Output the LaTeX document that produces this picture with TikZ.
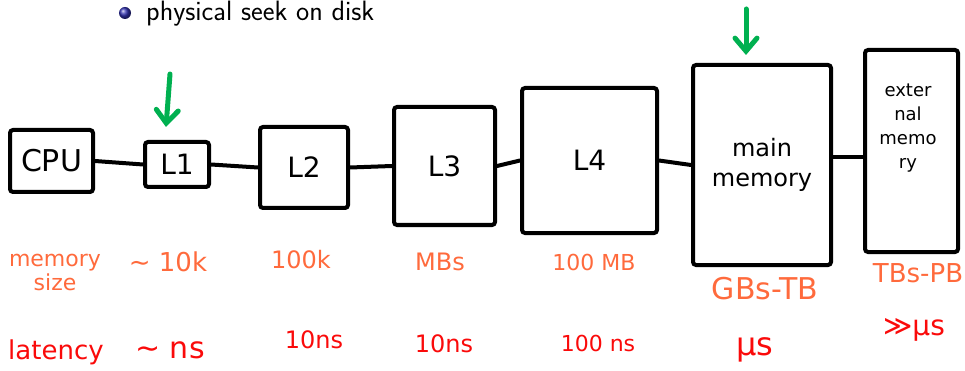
\documentclass[tikz,border=0pt]{standalone}
\usepackage{fontspec}
\newfontfamily\hand{DejaVu Sans}
\usetikzlibrary{arrows.meta}
\definecolor{orangelbl}{RGB}{255,106,60}
\definecolor{redlbl}{RGB}{250,10,10}
\definecolor{greenarr}{RGB}{0,176,80}
\definecolor{beamerblue}{RGB}{51,51,179}
\newcommand{\handsz}[1]{\hand\fontsize{#1}{#1}\selectfont}
\tikzset{
  membox/.style={draw=black, line width=4pt, rounded corners=3pt, inner sep=0pt, align=center, font=\handsz{28}},
  conn/.style={draw=black, line width=4pt, line cap=round},
  sizelbl/.style={text=orangelbl, font=\handsz{22}, inner sep=0pt, align=center},
  latlbl/.style={text=redlbl, font=\handsz{22}, inner sep=0pt, align=center},
  greenarrow/.style={draw=greenarr, line width=5pt, line cap=round, -{Straight Barb[length=13pt,width=22pt,line cap=round]}}
}
\begin{document}
\begin{tikzpicture}[x=1pt,y=-1pt]
\useasboundingbox (0,0) rectangle (965,371);
% bullet line
\node[circle, shading=ball, ball color=beamerblue, minimum size=12pt, inner sep=0pt] (bullet) at (125,13) {};
\node[anchor=base west, inner sep=0pt, font=\sffamily\fontsize{28}{30}\selectfont] (seek) at (146,21) {physical seek on disk};
% boxes
\node[membox, minimum width=83pt, minimum height=62pt, font=\handsz{30}] (cpu) at (51.5,161) {CPU};
\node[membox, minimum width=64pt, minimum height=45pt] (l1) at (177,164.5) {L1};
\node[membox, minimum width=88pt, minimum height=81pt] (l2) at (304,167.5) {L2};
\node[membox, minimum width=101pt, minimum height=118pt] (l3) at (444.5,166) {L3};
\node[membox, minimum width=135pt, minimum height=145pt] (l4) at (589.5,160.5) {L4};
\node[membox, minimum width=138pt, minimum height=200pt, font=\hand\fontsize{24}{30}\selectfont] (main) at (762,165) {main\\memory};
\node[membox, minimum width=93pt, minimum height=202pt] (ext) at (911.5,151) {};
\node[anchor=north, inner sep=0pt, align=center, font=\hand\fontsize{18}{24}\selectfont] (exttext) at (908,84) {exter\\nal\\memo\\ry};
% connectors
\draw[conn] (cpu.east) -- (l1.west);
\draw[conn] (l1.east) -- (l2.west);
\draw[conn] (l2.east) -- (l3.west);
\draw[conn] (l3.east) -- (l4.west);
\draw[conn] (l4.east) -- (main.west);
\draw[conn] ([yshift=8pt]main.east) -- ([yshift=8pt]main.east -| ext.west);
% green arrows
\coordinate (g1s) at (170,74);
\coordinate (g1e) at (166,127);
\coordinate (g2s) at (746,9);
\coordinate (g2e) at (746,55);
\draw[greenarrow] (g1s) -- (g1e);
\draw[greenarrow] (g2s) -- (g2e);
% memory size row
\node[sizelbl, font=\hand\fontsize{22}{24}\selectfont] (szlbl) at (55,272) {memory\\size};
\node[sizelbl, font=\handsz{26}] (sz1) at (168,262) {∼ 10k};
\node[sizelbl, font=\handsz{24}] (sz2) at (301,260) {100k};
\node[sizelbl, font=\handsz{24}] (sz3) at (440,262) {MBs};
\node[sizelbl] (sz4) at (594,262) {100 MB};
\node[sizelbl, font=\handsz{30}] (sz5) at (765,289) {GBs-TB};
\node[sizelbl, font=\handsz{26}] (sz6) at (918,273) {TBs-PB};
% latency row
\node[latlbl, font=\handsz{26}] (latlbl) at (56,352) {latency};
\node[latlbl, font=\handsz{30}] (lt1) at (170,350) {∼ ns};
\node[latlbl, font=\handsz{24}] (lt2) at (314,340) {10ns};
\node[latlbl, font=\handsz{24}] (lt3) at (444,344) {10ns};
\node[latlbl] (lt4) at (598,343) {100 ns};
\node[latlbl, font=\handsz{32}] (lt5) at (755,350) {μs};
\node[latlbl, font=\handsz{28}] (lt6) at (914,330) {≫μs};
\end{tikzpicture}
\end{document}
